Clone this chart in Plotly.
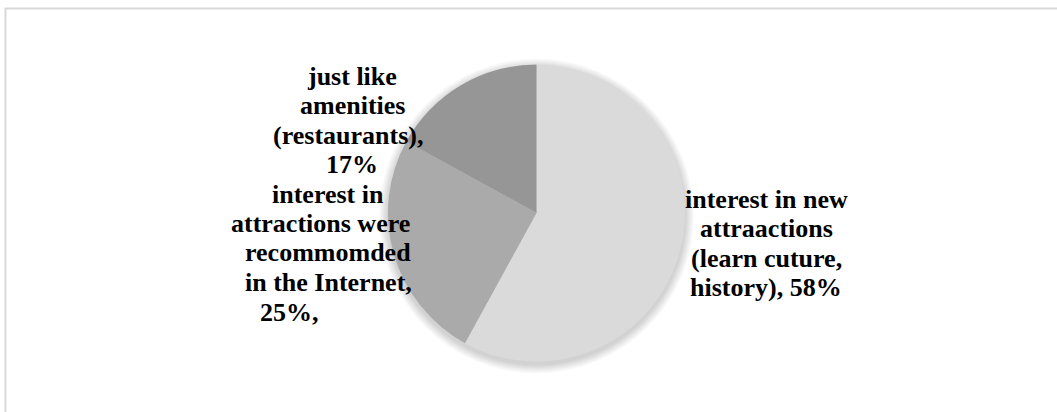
import plotly.graph_objects as go

# Survey: reasons for choosing the destination
categories = [
    "interest in new attraactions (learn cuture, history)",
    "interest in attractions were recommomded in the Internet",
    "just like amenities (restaurants)",
]
values = [58, 25, 17]
colors = ["#dadada", "#aaaaaa", "#969696"]

# Label text, line by line; {v} is replaced by the slice value
label_lines = [
    ["interest in new", "attraactions", "(learn cuture,", "history), {v}%"],
    ["interest in", "attractions were", "recommomded", "in the Internet,", "{v}%,"],
    ["just like", "amenities", "(restaurants),", "{v}%"],
]

W, H = 1057, 412
CX, CY, R = 536.5, 213.0, 148.5


def px(x):
    return x / W


def py(y):
    return 1 - y / H


fig = go.Figure(
    go.Pie(
        labels=categories,
        values=values,
        sort=False,
        direction="clockwise",
        rotation=0,
        marker=dict(colors=colors, line=dict(width=0)),
        textinfo="none",
        hoverinfo="label+percent",
        showlegend=False,
        domain=dict(x=[px(CX - R), px(CX + R)], y=[py(CY + R), py(CY - R)]),
    )
)

# soft drop shadow under the pie
shapes = []
for k in range(9, 0, -1):
    rr = R + k
    shapes.append(
        dict(
            type="circle", xref="paper", yref="paper", layer="below",
            x0=px(CX - rr), x1=px(CX + rr),
            y0=py(CY + 3 + rr), y1=py(CY + 3 - rr),
            fillcolor="rgba(0,0,0,0.02)", line=dict(width=0),
        )
    )

# chart-area frame
shapes.append(
    dict(
        type="rect", xref="paper", yref="paper", layer="above",
        x0=px(5.5), x1=px(1065), y0=py(420), y1=py(8.5),
        line=dict(color="#d9d9d9", width=2), fillcolor="rgba(0,0,0,0)",
    )
)

# label placement: (centre x of each line, y of first line, line step)
placements = [
    ([766, 766, 766, 766], 199, 29.5),
    ([328, 321, 328, 328, 289], 194, 29.5),
    ([352, 352, 348, 352], 76, 29.5),
]

annotations = []
for lines, val, (xs, y0, step) in zip(label_lines, values, placements):
    for i, (line, x) in enumerate(zip(lines, xs)):
        annotations.append(
            dict(
                text="<b>" + line.format(v=val) + "</b>",
                x=px(x), y=py(y0 + i * step),
                xref="paper", yref="paper",
                xanchor="center", yanchor="middle",
                showarrow=False,
                font=dict(
                    family="Liberation Serif, Times New Roman, serif",
                    size=26, color="#000000",
                ),
            )
        )

fig.update_layout(
    width=W, height=H,
    margin=dict(l=0, r=0, t=0, b=0),
    paper_bgcolor="#ffffff",
    plot_bgcolor="#ffffff",
    shapes=shapes,
    annotations=annotations,
)

fig.write_html("out.html")
